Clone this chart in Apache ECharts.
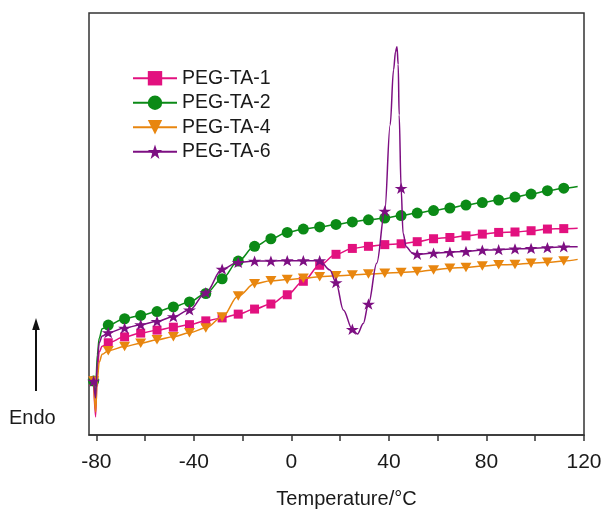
<!DOCTYPE html>
<html>
<head>
<meta charset="utf-8">
<script src="https://cdn.jsdelivr.net/npm/echarts@6/dist/echarts.min.js"></script>
<style>
  html, body { margin: 0; padding: 0; background: #fff; }
  #chart { width: 605px; height: 515px; }
</style>
</head>
<body>
<div id="chart"></div>
<script>
// DSC heating curves (heat flow, arbitrary units, endo up) versus temperature.
const seriesNames = ['PEG-TA-1', 'PEG-TA-2', 'PEG-TA-4', 'PEG-TA-6'];

// Temperatures where the symbols sit along every curve
const markerTemps = [-81.1, -75.1, -68.4, -61.8, -55.1, -48.4, -41.8, -35.1, -28.4, -21.8, -15.1,
  -8.4, -1.7, 4.9, 11.6, 18.3, 25.0, 31.6, 38.3, 45.0, 51.6, 58.3, 65.0, 71.6, 78.3, 85.0,
  91.7, 98.3, 105.0, 111.7];

// Initial transient at the start of the heating scan
const startTemps = [-80.3, -79.6, -78.8, -77.6];
const endTemps = [117.4];

function curveTemps() {
  return [markerTemps[0]].concat(startTemps, markerTemps.slice(1), endTemps);
}

// PEG-TA-1
const pegTa1Temp = curveTemps();
const pegTa1Heat = [12.8, 4.3, 15.4, 19.7, 21.1,
  21.9, 23.3, 24.2, 24.9, 25.6, 26.2, 27.1, 27.8, 28.7, 29.9,
  31.1, 33.3, 36.5, 40.3, 42.9, 44.3, 44.8, 45.2, 45.4, 45.9,
  46.6, 46.9, 47.3, 47.7, 48.1, 48.2, 48.5, 48.9, 49.0,
  49.1];

// PEG-TA-2
const pegTa2Temp = curveTemps();
const pegTa2Heat = [12.8, 10.0, 19.0, 23.0, 25.2,
  26.1, 27.6, 28.4, 29.3, 30.4, 31.6, 33.6, 37.1, 41.3, 44.8,
  46.6, 48.1, 48.9, 49.4, 50.0, 50.6, 51.1, 51.5, 52.1, 52.7,
  53.3, 53.9, 54.6, 55.2, 55.8, 56.5, 57.2, 58.0, 58.6,
  59.0];

// PEG-TA-4
const pegTa4Temp = curveTemps();
const pegTa4Heat = [12.8, 5.5, 13.1, 17.3, 19.2,
  20.0, 21.0, 21.8, 22.6, 23.3, 24.3, 25.4, 28.0, 33.0, 35.9,
  36.6, 36.9, 37.2, 37.6, 37.8, 38.0, 38.2, 38.4, 38.6, 38.8,
  39.2, 39.6, 39.8, 40.1, 40.4, 40.5, 40.8, 41.0, 41.3,
  41.7];

// PEG-TA-6: cold crystallisation dip followed by the melting peak
const pegTa6Temp = [-81.1, -80.3, -79.6, -78.8, -77.6,
  -75.1, -68.4, -61.8, -55.1, -48.4, -41.8, -35.1, -28.4, -21.8, -15.1,
  -8.4, -1.7, 4.9, 11.6, 15.8, 18.3, 21.3, 25.0, 27.1, 29.5, 31.6, 35.0, 38.3,
  40.5, 41.9, 42.7, 43.3, 43.8, 44.2, 45.0, 45.8, 47.1, 49.4, 51.6,
  58.3, 65.0, 71.6, 78.3, 85.0, 91.7, 98.3, 105.0, 111.7,
  117.4];
const pegTa6Heat = [12.8, 8.8, 17.3, 21.9, 23.5,
  24.3, 25.4, 26.2, 27.0, 28.1, 29.7, 33.8, 39.4, 41.0, 41.3,
  41.3, 41.4, 41.4, 41.4, 39.2, 36.2, 29.7, 25.1, 24.0, 26.5, 31.1, 40.8, 53.2,
  73.6, 86.7, 91.0, 92.2, 88.0, 76.0, 58.6, 47.9, 44.7, 43.3, 42.9,
  43.2, 43.4, 43.6, 43.9, 44.0, 44.2, 44.3, 44.5, 44.7,
  44.7];

// Axis ticks
const xTicks = [-80, -60, -40, -20, 0, 20, 40, 60, 80, 100, 120];
const xLabels = [-80, -40, 0, 40, 80, 120];

const colors = ['#e2117f', '#0b8a16', '#e8860f', '#7d0f82'];
const symbols = ['rect', 'circle', 'triangle', 'path://M50,0 L61.8,35.1 L98.1,35.1 L68.8,56.8 L79.4,91.1 L50,70 L20.6,91.1 L31.2,56.8 L1.9,35.1 L38.2,35.1 Z'];
const symbolSizes = [[9, 9], [11, 11], [11, 9.5], [13, 12]];
const symbolRotations = [0, 0, 180, 0];

const temps = [pegTa1Temp, pegTa2Temp, pegTa4Temp, pegTa6Temp];
const heats = [pegTa1Heat, pegTa2Heat, pegTa4Heat, pegTa6Heat];

const markerSet = new Set(markerTemps.map(t => t.toFixed(1)));

function buildData(t, h) {
  return t.map((x, i) => {
    const item = { value: [x, h[i]] };
    if (!markerSet.has(x.toFixed(1))) item.symbol = 'none';
    return item;
  });
}

const FONT = '"Liberation Sans", Arial, sans-serif';

// Draw order: first-listed sample on top
const series = seriesNames.map((name, i) => ({
  name: name,
  type: 'line',
  data: buildData(temps[i], heats[i]),
  smooth: 0.35,
  smoothMonotone: 'x',
  symbol: symbols[i],
  symbolSize: symbolSizes[i],
  symbolRotate: symbolRotations[i],
  symbolKeepAspect: true,
  lineStyle: { color: colors[i], width: 1.5 },
  itemStyle: { color: colors[i], borderWidth: 0 },
  emphasis: { disabled: true },
  animation: false,
  z: 2 + i
}));

const chart = echarts.init(document.getElementById('chart'), null, { renderer: 'canvas' });
chart.setOption({
  backgroundColor: '#ffffff',
  animation: false,
  grid: {
    left: 89, right: 21, top: 13, bottom: 80,
    show: true, borderColor: '#333', borderWidth: 1.5, backgroundColor: 'transparent'
  },
  legend: {
    orient: 'vertical',
    left: 127,
    top: 63,
    itemWidth: 44,
    itemHeight: 18,
    itemGap: 4,
    data: seriesNames,
    textStyle: { fontFamily: FONT, fontSize: 19.5, color: '#1a1a1a', lineHeight: 20.5 }
  },
  xAxis: {
    type: 'value',
    min: -83,
    max: 120,
    name: 'Temperature/°C',
    nameLocation: 'middle',
    nameGap: 54,
    nameTextStyle: { fontFamily: FONT, fontSize: 20, color: '#1a1a1a', padding: [0, 0, 0, 20] },
    splitLine: { show: false },
    axisLine: { show: true, onZero: false, lineStyle: { color: '#333', width: 1.5 } },
    axisTick: { show: true, inside: false, length: 6, customValues: xTicks, lineStyle: { color: '#333', width: 1.5 } },
    axisLabel: { customValues: xLabels, margin: 17, fontFamily: FONT, fontSize: 21, color: '#1a1a1a' }
  },
  yAxis: {
    type: 'value',
    min: 0,
    max: 100.2,
    show: false,
    splitLine: { show: false }
  },
  graphic: [
    {
      type: 'line',
      shape: { x1: 36, y1: 391, x2: 36, y2: 327 },
      style: { stroke: '#111', lineWidth: 2 }
    },
    {
      type: 'polygon',
      shape: { points: [[36, 318], [32.2, 330], [39.8, 330]] },
      style: { fill: '#111' }
    },
    {
      type: 'text',
      left: 9,
      top: 408,
      style: { text: 'Endo', font: '20px "Liberation Sans", Arial, sans-serif', fill: '#1a1a1a' }
    }
  ],
  series: series
});
</script>
</body>
</html>
